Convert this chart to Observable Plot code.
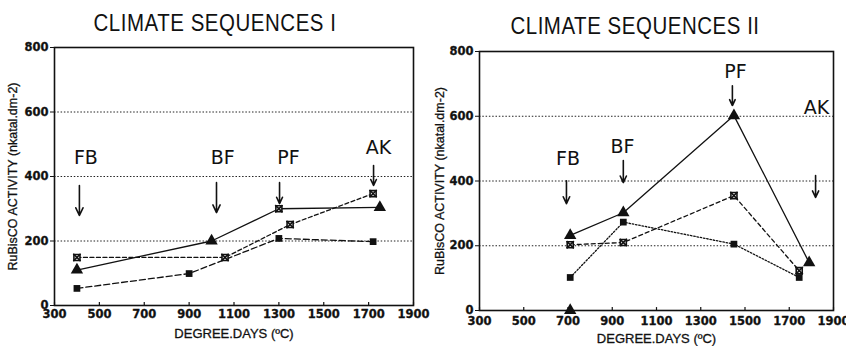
<!DOCTYPE html>
<html><head><meta charset="utf-8">
<script src="https://cdn.jsdelivr.net/npm/d3@7"></script>
<script src="https://cdn.jsdelivr.net/npm/@observablehq/plot@0.6"></script>
<style>
body{margin:0;background:#fff;}
#wrap{position:relative;width:846px;height:346px;overflow:hidden;background:#fff;}
.title{position:absolute;font-family:"Liberation Sans",Arial,sans-serif;font-size:23px;color:#111;white-space:nowrap;transform:translateX(-50%) scaleX(0.89);letter-spacing:0.6px;line-height:1;}
.panel{position:absolute;top:40px;}
</style></head><body>
<div id="wrap">
  <div class="title" style="left:215px;top:12px;">CLIMATE SEQUENCES I</div>
  <div class="title" style="left:635px;top:15px;">CLIMATE SEQUENCES II</div>
  <div class="panel" id="p1" style="left:0px;"></div>
  <div class="panel" id="p2" style="left:423px;"></div>
</div>
<script>
// ---- shared axis ticks ----
const xTicks = [300, 500, 700, 900, 1100, 1300, 1500, 1700, 1900];
const yTicks = [0, 200, 400, 600, 800];
const gridY = [200, 400, 600];
const xLabel = "DEGREE.DAYS (ºC)";
const yLabel = "RuBisCO ACTIVITY (nkatal.dm-2)";

// ---- Climate sequences I ----
const xI_tri = [400, 1000, 1300, 1750];
const yI_tri = [110, 200, 300, 304];
const mI_tri = ["triangle", "triangle", "boxtimes", "triangle"];
const xI_ast = [400, 1060, 1350, 1720];
const yI_ast = [149, 149, 251, 347];
const mI_ast = ["boxtimes", "boxtimes", "boxtimes", "boxtimes"];
const xI_sq = [400, 900, 1300, 1720];
const yI_sq = [53, 99, 208, 198];
const mI_sq = ["square", "square", "square", "square"];
const annI_label = ["FB", "BF", "PF", "AK"];
const annI_textX = [440, 1050, 1343, 1744];
const annI_textY = [459, 459, 459, 490];
const annI_arrowX = [411, 1022, 1303, 1722];
const annI_arrowTop = [372, 381, 381, 434];
const annI_arrowTip = [279, 288, 316, 372];

// ---- Climate sequences II ----
const xII_tri = [710, 950, 1450, 1790];
const yII_tri = [232, 302, 602, 148];
const mII_tri = ["triangle", "triangle", "triangle", "triangle"];
const xII_triLone = [710];
const yII_triLone = [0];
const xII_ast = [710, 950, 1450, 1745];
const yII_ast = [203, 210, 355, 123];
const mII_ast = ["boxtimes", "boxtimes", "boxtimes", "boxtimes"];
const xII_sq = [710, 950, 1450, 1745];
const yII_sq = [102, 273, 205, 102];
const mII_sq = ["square", "square", "square", "square"];
const annII_label = ["FB", "BF", "PF", "AK"];
const annII_textX = [700, 946, 1457, 1823];
const annII_textY = [469, 506, 738, 627];
const annII_arrowX = [693, 950, 1443, 1819];
const annII_arrowTop = [401, 463, 694, 417];
const annII_arrowTip = [330, 395, 633, 349];

const pts = (xs, ys, ms) => xs.map((x, i) => ({x, y: ys[i], m: ms ? ms[i] : "triangle"}));
const ann = (labels, tx, ty, ax, at, ap) => labels.map((t, i) => ({t, tx: tx[i], ty: ty[i], ax: ax[i], at: at[i], ap: ap[i]}));

function markers(data) {
  return [
    Plot.dot(data.filter(d => d.m === "triangle"), {x: "x", y: "y", symbol: "triangle", r: 4.6, fill: "#111"}),
    Plot.dot(data.filter(d => d.m === "square"), {x: "x", y: "y", symbol: "square", r: 3.8, fill: "#111"}),
    Plot.dot(data.filter(d => d.m === "boxtimes"), {x: "x", y: "y", symbol: "square", r: 3.4, fill: "white", stroke: "#111", strokeWidth: 1.6}),
    Plot.dot(data.filter(d => d.m === "boxtimes"), {x: "x", y: "y", symbol: "times", r: 3.4, stroke: "#111", strokeWidth: 1.6})
  ];
}

function panel(cfg) {
  const annots = cfg.annots;
  const tickFont = {fontSize: 11.5, fontWeight: "bold", fontFamily: "'DejaVu Sans', sans-serif", fill: "#111", stroke: "#111", strokeWidth: 0.3};
  return Plot.plot({
    width: 423, height: 306,
    marginLeft: cfg.ml, marginRight: cfg.mr, marginTop: cfg.mt, marginBottom: cfg.mb,
    style: {background: "transparent", overflow: "visible", fontFamily: "'Liberation Sans', Arial, sans-serif", color: "#111"},
    x: {domain: [300, 1900]},
    y: {domain: [0, 800]},
    marks: [
      Plot.ruleY(gridY, {stroke: "#222", strokeDasharray: "1.5,1.8", strokeWidth: 1}),
      Plot.frame({stroke: "#111", strokeWidth: 1.6}),
      Plot.axisX(xTicks, {tickSize: 0, tickFormat: () => "", label: null}),
      Plot.ruleX(xTicks, {y1: 0, y2: 9, stroke: "#111", strokeWidth: 1.2}),
      Plot.text(xTicks, {x: d => d, frameAnchor: "bottom", lineAnchor: "top", dy: cfg.xpad, text: d => String(d), ...tickFont}),
      Plot.axisY(yTicks, {tickSize: 4, tickFormat: () => "", label: null, stroke: "#111"}),
      Plot.text(yTicks, {y: d => d, frameAnchor: "left", textAnchor: "end", dx: -6, text: d => String(d), ...tickFont}),
      Plot.text([xLabel], {frameAnchor: "bottom", lineAnchor: "middle", dy: 28, fontSize: 13, fill: "#111", stroke: "#111", strokeWidth: 0.3}),
      Plot.text([yLabel], {frameAnchor: "left", textAnchor: "middle", lineAnchor: "middle", dx: cfg.ydx, rotate: -90, fontSize: 12.5, fill: "#111", stroke: "#111", strokeWidth: 0.3}),
      ...cfg.lines,
      ...markers(cfg.points),
      Plot.arrow(annots, {x1: "ax", y1: "at", x2: "ax", y2: "ap", stroke: "#111", strokeWidth: 1.6, headLength: 8, headAngle: 50}),
      Plot.text(annots, {x: "tx", y: "ty", text: "t", fontSize: 19, fontFamily: "'DejaVu Sans', sans-serif", fill: "#111"})
    ]
  });
}

const I_tri = pts(xI_tri, yI_tri, mI_tri);
const I_ast = pts(xI_ast, yI_ast, mI_ast);
const I_sq = pts(xI_sq, yI_sq, mI_sq);
const p1 = panel({
  ml: 54, mr: 10, mt: 7, mb: 41, xpad: 4, ydx: -42,
  annots: ann(annI_label, annI_textX, annI_textY, annI_arrowX, annI_arrowTop, annI_arrowTip),
  points: [...I_tri, ...I_ast, ...I_sq],
  lines: [
    Plot.line(I_tri, {x: "x", y: "y", stroke: "#111", strokeWidth: 1.3}),
    Plot.line(I_ast, {x: "x", y: "y", stroke: "#111", strokeWidth: 1.3, strokeDasharray: "4,2.5"}),
    Plot.line(I_sq, {x: "x", y: "y", stroke: "#111", strokeWidth: 1.3, strokeDasharray: "6,3"})
  ]
});
document.getElementById("p1").appendChild(p1);

const II_tri = pts(xII_tri, yII_tri, mII_tri);
const II_lone = pts(xII_triLone, yII_triLone, ["triangle"]);
const II_ast = pts(xII_ast, yII_ast, mII_ast);
const II_sq = pts(xII_sq, yII_sq, mII_sq);
const p2 = panel({
  ml: 56, mr: 13, mt: 11, mb: 36, xpad: 6, ydx: -40,
  annots: ann(annII_label, annII_textX, annII_textY, annII_arrowX, annII_arrowTop, annII_arrowTip),
  points: [...II_tri, ...II_lone, ...II_ast, ...II_sq],
  lines: [
    Plot.line(II_tri, {x: "x", y: "y", stroke: "#111", strokeWidth: 1.3}),
    Plot.line(II_ast, {x: "x", y: "y", stroke: "#111", strokeWidth: 1.3, strokeDasharray: "4,3"}),
    Plot.line(II_sq, {x: "x", y: "y", stroke: "#111", strokeWidth: 1.3, strokeDasharray: "1.5,1.8"})
  ]
});
document.getElementById("p2").appendChild(p2);
</script>
</body></html>
